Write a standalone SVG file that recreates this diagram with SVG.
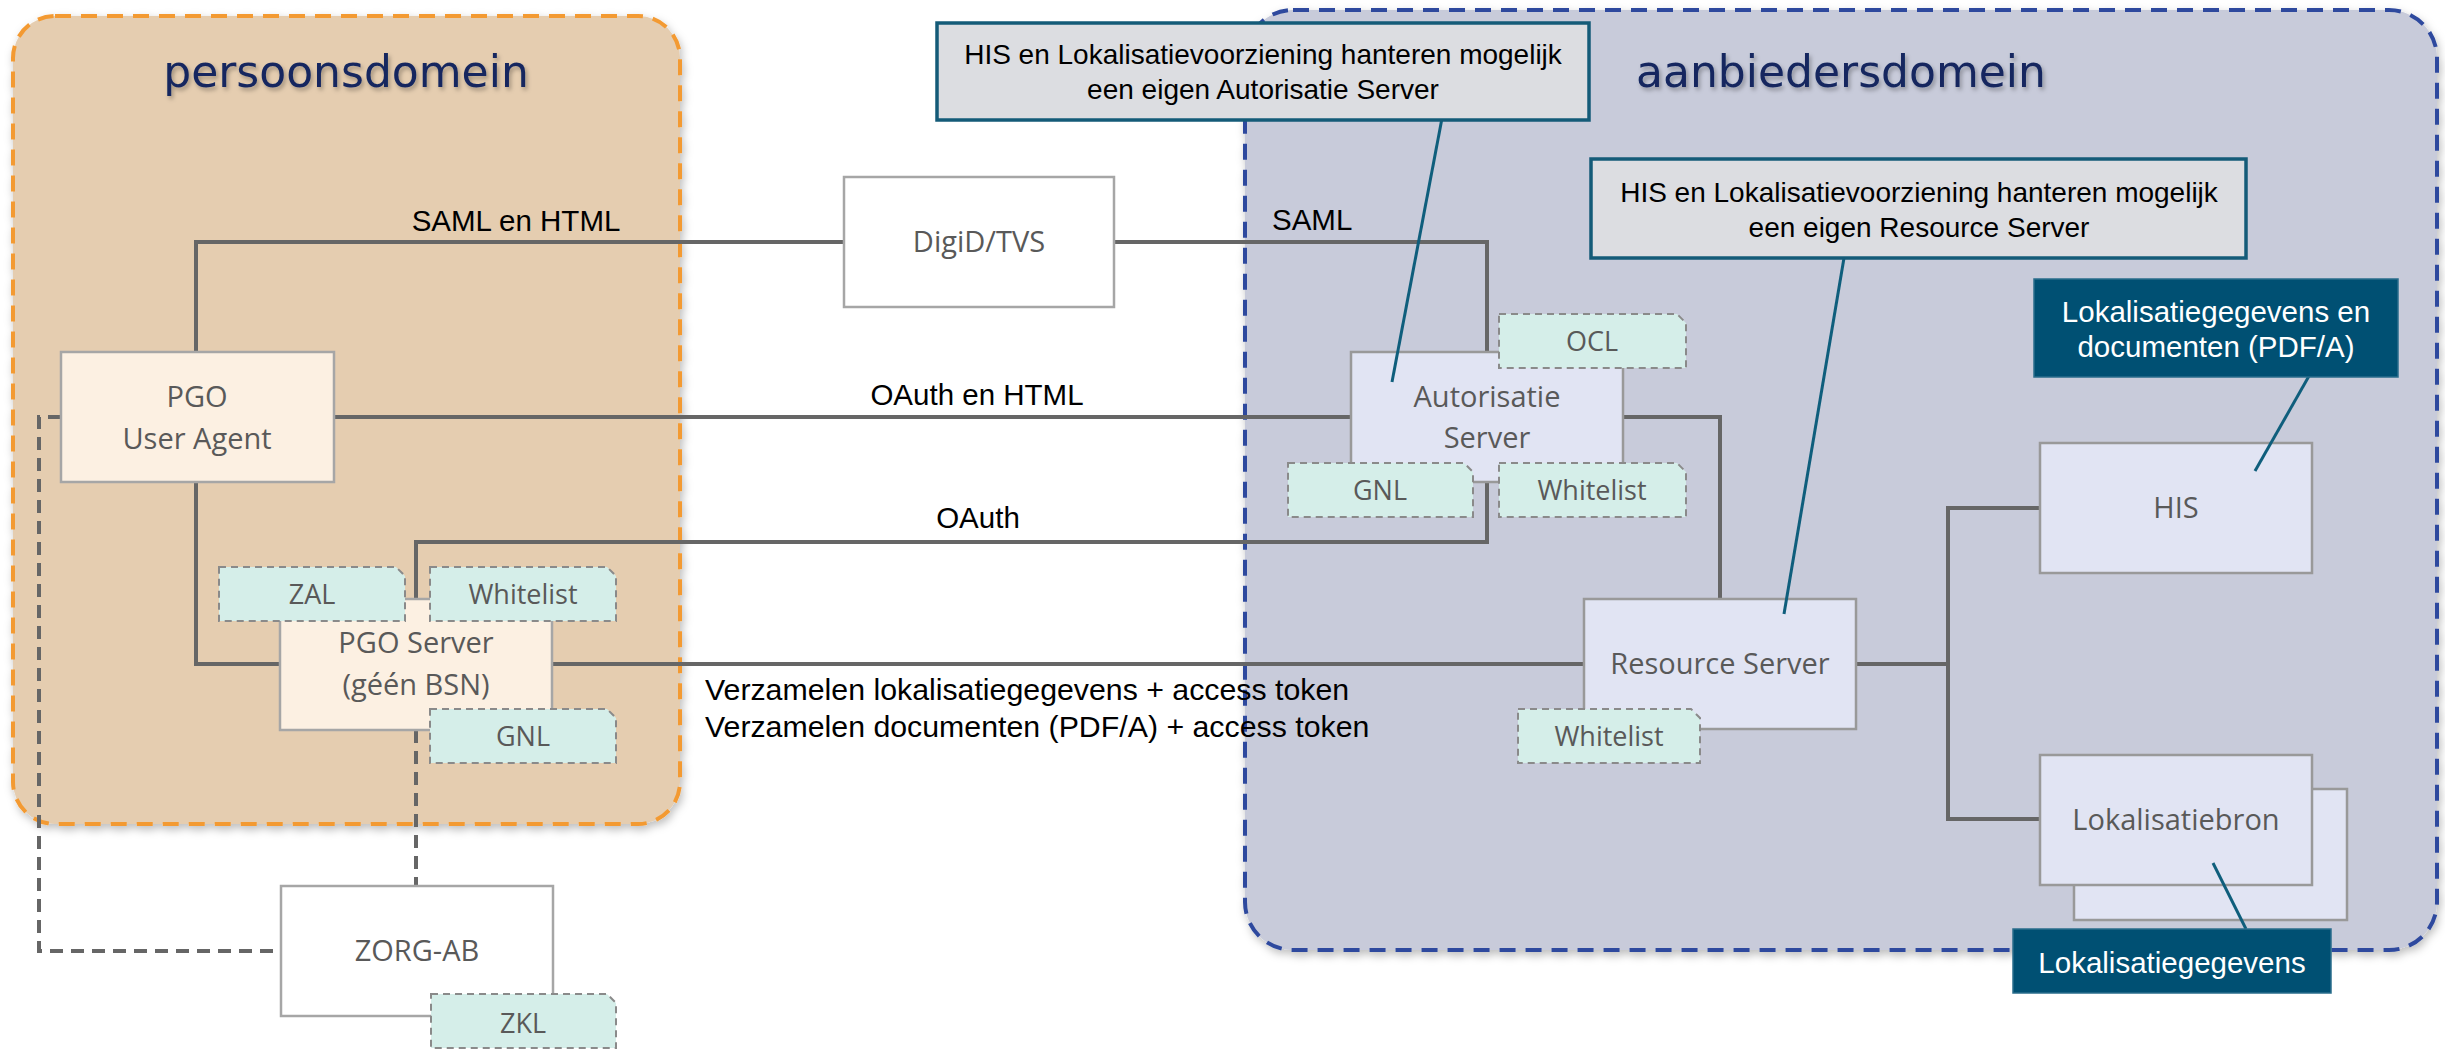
<svg xmlns="http://www.w3.org/2000/svg" width="2445" height="1049" viewBox="0 0 2445 1049">
<defs>
<filter id="sh" x="-5%" y="-5%" width="110%" height="110%">
<feDropShadow dx="2" dy="4" stdDeviation="4" flood-color="#000" flood-opacity="0.25"/>
</filter>
<filter id="tsh" x="-5%" y="-20%" width="110%" height="140%">
<feDropShadow dx="2" dy="3" stdDeviation="2" flood-color="#000" flood-opacity="0.3"/>
</filter>
<style>
.title{font-family:"DejaVu Sans",Verdana,sans-serif;font-size:44px;fill:#13275f;text-anchor:middle}
.lbl{font-family:"Liberation Sans",Arial,sans-serif;font-size:29.5px;fill:#000}
.lbl2{font-family:"Liberation Sans",Arial,sans-serif;font-size:30.3px;fill:#000}
.note{font-family:"Liberation Sans",Arial,sans-serif;font-size:28px;fill:#000;text-anchor:middle}
.wl{font-family:"Liberation Sans",Arial,sans-serif;font-size:29.5px;fill:#fff;text-anchor:middle}
.nt{font-family:"Open Sans","Liberation Sans",sans-serif;font-size:29px;fill:#595959;text-anchor:middle}
.tt{font-family:"Open Sans","Liberation Sans",sans-serif;font-size:27px;fill:#595959;text-anchor:middle}
.nodeW{fill:#fff;stroke:#a6a6a6;stroke-width:2.5}
.nodeC{fill:#fcf0e2;stroke:#a6a6a6;stroke-width:2.5}
.nodeB{fill:#e1e4f3;stroke:#999;stroke-width:2.5}
.tag{fill:#d5eee9;stroke:#8a8a8a;stroke-width:2;stroke-dasharray:7 5}
.con{fill:none;stroke:#666;stroke-width:4}
.dcon{fill:none;stroke:#666;stroke-width:4;stroke-dasharray:13 8}
.cl{fill:none;stroke:#0f5e7c;stroke-width:3}
.callout{fill:#dcdde1;stroke:#145b78;stroke-width:3.5}
.dark{fill:#005073;stroke:#2a6d8c;stroke-width:1.5}
</style>
</defs>

<g id="persoonsdomein">
<rect x="13" y="16" width="667" height="808" rx="42" fill="#e5cdb0" stroke="#f39a33" stroke-width="4" stroke-dasharray="16 10" filter="url(#sh)"/>
<text class="title" x="346" y="87" filter="url(#tsh)">persoonsdomein</text>
</g>
<g id="aanbiedersdomein">
<rect x="1245" y="10" width="1192" height="940" rx="48" fill="#c8cbda" stroke="#2f4a9e" stroke-width="4" stroke-dasharray="16 10" filter="url(#sh)"/>
<text class="title" x="1841" y="87" filter="url(#tsh)">aanbiedersdomein</text>
</g>

<g id="connectors">
<path class="con" d="M196,352 V242 H844"/>
<path class="con" d="M1114,242 H1487 V352"/>
<path class="con" d="M334,417 H1351"/>
<path class="con" d="M1623,417 H1720 V599"/>
<path class="con" d="M1487,482 V542 H416 V599"/>
<path class="con" d="M196,482 V664 H280"/>
<path class="con" d="M552,664 H1584"/>
<path class="con" d="M1856,664 H1948"/>
<path class="con" d="M2040,508 H1948 V819 H2040"/>
<path class="dcon" d="M61,417 H39 V951 H281"/>
<path class="dcon" d="M416,730 V886"/>
<text class="lbl" x="516" y="231" text-anchor="middle">SAML en HTML</text>
<text class="lbl" x="1272" y="230">SAML</text>
<text class="lbl" x="977" y="405" text-anchor="middle">OAuth en HTML</text>
<text class="lbl" x="978" y="528" text-anchor="middle">OAuth</text>
<text class="lbl2" x="705" y="700">Verzamelen lokalisatiegegevens + access token</text>
<text class="lbl2" x="705" y="737">Verzamelen documenten (PDF/A) + access token</text>
</g>

<g id="digid">
<rect class="nodeW" x="844" y="177" width="270" height="130"/>
<text class="nt" x="979" y="252">DigiD/TVS</text>
</g>

<g id="pgo-user-agent">
<rect class="nodeC" x="61" y="352" width="273" height="130"/>
<text class="nt" x="197" y="407">PGO</text>
<text class="nt" x="197" y="449">User Agent</text>
</g>

<g id="pgo-server">
<rect class="nodeC" x="280" y="599" width="272" height="131"/>
<text class="nt" x="416" y="653">PGO Server</text>
<text class="nt" x="416" y="695">(géén BSN)</text>
</g>
<g id="tag-zal">
<path class="tag" d="M219,567 H396 L405,576 V621 H219 Z"/>
<text class="tt" x="312" y="604">ZAL</text>
</g>
<g id="tag-whitelist-pgo">
<path class="tag" d="M430,567 H607 L616,576 V621 H430 Z"/>
<text class="tt" x="523" y="604">Whitelist</text>
</g>
<g id="tag-gnl-pgo">
<path class="tag" d="M430,709 H607 L616,718 V763 H430 Z"/>
<text class="tt" x="523" y="746">GNL</text>
</g>

<g id="zorg-ab">
<rect class="nodeW" x="281" y="886" width="272" height="130"/>
<text class="nt" x="417" y="961">ZORG-AB</text>
</g>
<g id="tag-zkl">
<path class="tag" d="M431,994 H607 L616,1003 V1048 H431 Z"/>
<text class="tt" x="523" y="1033">ZKL</text>
</g>

<g id="autorisatie-server">
<rect class="nodeB" x="1351" y="352" width="272" height="130"/>
<text class="nt" x="1487" y="407">Autorisatie</text>
<text class="nt" x="1487" y="448">Server</text>
</g>
<g id="tag-ocl">
<path class="tag" d="M1499,314 H1677 L1686,323 V368 H1499 Z"/>
<text class="tt" x="1592" y="351">OCL</text>
</g>
<g id="tag-gnl-as">
<path class="tag" d="M1288,463 H1464 L1473,472 V517 H1288 Z"/>
<text class="tt" x="1380" y="500">GNL</text>
</g>
<g id="tag-whitelist-as">
<path class="tag" d="M1499,463 H1677 L1686,472 V517 H1499 Z"/>
<text class="tt" x="1592" y="500">Whitelist</text>
</g>

<g id="resource-server">
<rect class="nodeB" x="1584" y="599" width="272" height="130"/>
<text class="nt" x="1720" y="674">Resource Server</text>
</g>
<g id="tag-whitelist-rs">
<path class="tag" d="M1518,709 H1691 L1700,718 V763 H1518 Z"/>
<text class="tt" x="1609" y="746">Whitelist</text>
</g>

<g id="his">
<rect class="nodeB" x="2040" y="443" width="272" height="130"/>
<text class="nt" x="2176" y="518">HIS</text>
</g>

<g id="lokalisatiebron">
<rect class="nodeB" x="2074" y="789" width="273" height="131"/>
<rect class="nodeB" x="2040" y="755" width="272" height="130"/>
<text class="nt" x="2176" y="830">Lokalisatiebron</text>
</g>

<g id="callout-autorisatie">
<path class="cl" d="M1443,113 L1392,382"/>
<rect class="callout" x="937" y="23" width="652" height="97"/>
<text class="note" x="1263" y="64">HIS en Lokalisatievoorziening hanteren mogelijk</text>
<text class="note" x="1263" y="99">een eigen Autorisatie Server</text>
</g>

<g id="callout-resource">
<path class="cl" d="M1845,252 L1784,614"/>
<rect class="callout" x="1591" y="159" width="655" height="99"/>
<text class="note" x="1919" y="202">HIS en Lokalisatievoorziening hanteren mogelijk</text>
<text class="note" x="1919" y="237">een eigen Resource Server</text>
</g>

<g id="label-his">
<path class="cl" d="M2309,376 L2255,471"/>
<rect class="dark" x="2034" y="279" width="364" height="98"/>
<text class="wl" x="2216" y="322">Lokalisatiegegevens en</text>
<text class="wl" x="2216" y="357">documenten (PDF/A)</text>
</g>

<g id="label-lokalisatiebron">
<path class="cl" d="M2213,863 L2246,929"/>
<rect class="dark" x="2013" y="929" width="318" height="64"/>
<text class="wl" x="2172" y="973">Lokalisatiegegevens</text>
</g>
</svg>
